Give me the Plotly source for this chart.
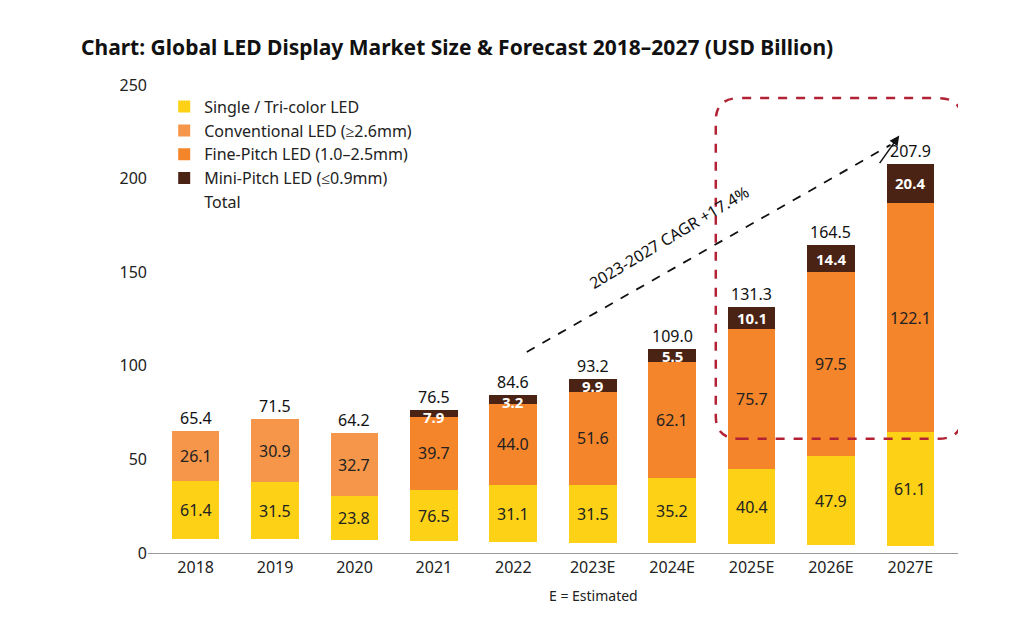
import plotly.graph_objects as go

years = ["2018","2019","2020","2021","2022","2023E","2024E","2025E","2026E","2027E"]
base = [7.4,7.4,6.9,6.4,5.9,5.3,5.3,4.8,4.3,3.7]
single = [30.9,30.4,23.4,27.1,30.3,30.9,34.6,39.9,47.3,60.7]
conventional = [27.1,33.7,33.9,0,0,0,0,0,0,0]
fine = [0,0,0,39.4,43.6,50.0,62.1,75.0,98.4,122.6]
mini = [0,0,0,3.6,4.8,7.0,7.0,11.6,14.5,20.9]
single_lbl = ["61.4","31.5","23.8","76.5","31.1","31.5","35.2","40.4","47.9","61.1"]
mid_lbl = ["26.1","30.9","32.7","39.7","44.0","51.6","62.1","75.7","97.5","122.1"]
mini_lbl = ["","","","7.9","3.2","9.9","5.5","10.1","14.4","20.4"]
total_lbl = ["65.4","71.5","64.2","76.5","84.6","93.2","109.0","131.3","164.5","207.9"]

FONT = "Noto Sans"
fig = go.Figure()
fig.add_bar(x=years, y=base, marker_color="rgba(0,0,0,0)", showlegend=False, hoverinfo="skip")
fig.add_bar(x=years, y=single, name="Single / Tri-color LED", marker_color="#FCD116")
fig.add_bar(x=years, y=conventional, name="Conventional LED (≥2.6mm)", marker_color="#F5964A")
fig.add_bar(x=years, y=fine, name="Fine-Pitch LED (1.0–2.5mm)", marker_color="#F5852B")
fig.add_bar(x=years, y=mini, name="Mini-Pitch LED (≤0.9mm)", marker_color="#4B2314")
fig.add_scatter(x=[None], y=[None], mode="lines", line=dict(color="rgba(0,0,0,0)"), name="Total")
fig.update_traces(marker_line_width=0, selector=dict(type="bar"))

ann = []
for i, y in enumerate(years):
    b = base[i]; s = single[i]; m = conventional[i] + fine[i]; k = mini[i]
    ann.append(dict(x=i, y=b + s/2, text=single_lbl[i], showarrow=False, font=dict(size=16, color="#222")))
    ann.append(dict(x=i, y=b + s + m/2, text=mid_lbl[i], showarrow=False, font=dict(size=16, color="#222")))
    if mini_lbl[i]:
        yy = b + s + m + k/2 if k > 8 else b + s + m + k - 4
        ann.append(dict(x=i, y=yy, text="<b>"+mini_lbl[i]+"</b>", showarrow=False, font=dict(size=15, color="white")))
    ann.append(dict(x=i, y=b + s + m + k, text=total_lbl[i], showarrow=False, yshift=13, font=dict(size=16, color="#111")))
ann.append(dict(x=5.97, y=168.6, text="2023-2027 CAGR +17.4%", showarrow=False, textangle=-31, font=dict(size=16, color="#111")))
ann.append(dict(x=8.86, y=223, ax=8.6, ay=207.5, axref="x", ayref="y", text="", showarrow=True, arrowhead=2, arrowsize=1.3, arrowwidth=1.5, arrowcolor="#111"))
ann.append(dict(xref="paper", yref="paper", x=0.55, y=-0.115, text="E = Estimated", showarrow=False, font=dict(size=14, color="#222")))
ann.append(dict(xref="paper", yref="paper", x=-0.085, y=1.115, xanchor="left", text="<b>Chart: Global LED Display Market Size & Forecast 2018–2027 (USD Billion)</b>", showarrow=False, font=dict(size=21, color="#111")))

x0, x1, y0, y1, rx, ry = 6.55, 9.65, 61, 243, 0.3, 12
path = (f"M {x0+rx},{y0} L {x1-rx},{y0} Q {x1},{y0} {x1},{y0+ry} L {x1},{y1-ry} Q {x1},{y1} {x1-rx},{y1} "
        f"L {x0+rx},{y1} Q {x0},{y1} {x0},{y1-ry} L {x0},{y0+ry} Q {x0},{y0} {x0+rx},{y0} Z")
shapes = [
    dict(type="path", path=path, xref="x", yref="y", line=dict(color="#B22234", width=2.5, dash="dash")),
    dict(type="line", xref="x", yref="y", x0=4.17, y0=107.4, x1=8.75, y1=218, line=dict(color="#111", width=1.8, dash="dash")),
]

fig.update_layout(
    barmode="stack", bargap=0.4, width=1024, height=617,
    paper_bgcolor="white", plot_bgcolor="white",
    margin=dict(l=140, r=74, t=77, b=72),
    font=dict(family=FONT, size=15, color="#222"),
    legend=dict(x=0.02, y=0.99, xanchor="left", yanchor="top", bgcolor="rgba(0,0,0,0)", font=dict(size=16), traceorder="normal", itemwidth=30),
    annotations=ann, shapes=shapes,
    xaxis=dict(type="category", range=[-0.6, 9.6], showline=True, linecolor="#999", ticks="", tickfont=dict(size=16)),
    yaxis=dict(range=[0, 250], dtick=50, showgrid=False, zeroline=False, tickfont=dict(size=16), showline=False),
)
fig.write_html("out.html")
